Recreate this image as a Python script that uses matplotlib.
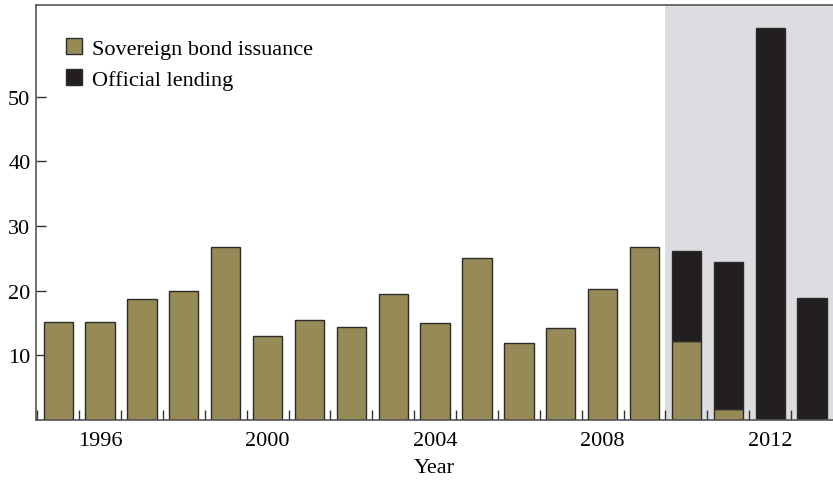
import numpy as np
import matplotlib
matplotlib.use("Agg")
import matplotlib.pyplot as plt
from matplotlib.ticker import FixedLocator

years = list(range(1995, 2014))
bond_issuance = [15.2, 15.2, 18.7, 20.0, 26.8, 13.0, 15.5, 14.4, 19.5, 15.0,
                 25.1, 11.9, 14.2, 20.3, 26.8, 12.3, 1.7, 0.0, 0.0]
official_lending = [0, 0, 0, 0, 0, 0, 0, 0, 0, 0,
                    0, 0, 0, 0, 0, 13.9, 22.8, 60.7, 18.9]
label_years = [1996, 2000, 2004, 2008, 2012]
y_ticks = [10, 20, 30, 40, 50]

olive = "#968b56"
dark = "#231f20"
shade = "#dcdde0"
edge = "#2b2b2b"

plt.rcParams["font.family"] = ["Liberation Serif", "DejaVu Serif"]
plt.rcParams["font.size"] = 16

fig = plt.figure(figsize=(8.33, 4.81), dpi=100)
ax = fig.add_axes([0.0432, 0.1247, 0.9568, 0.8628])

ax.axvspan(2009.5, 2013.6, color=shade, zorder=0, lw=0)

years_arr = np.array(years)
bond = np.array(bond_issuance)
lend = np.array(official_lending)

ax.bar(years_arr, bond, width=0.7, color=olive, edgecolor=edge, linewidth=1.0,
       zorder=2, label="Sovereign bond issuance")
mask = lend > 0
ax.bar(years_arr[mask], lend[mask], width=0.7, bottom=bond[mask], color=dark,
       edgecolor=edge, linewidth=1.0, zorder=2, label="Official lending")

ax.set_xlim(1994.47, 2013.5)
ax.set_ylim(0, 64.2)

ax.set_xticks(label_years)
ax.set_xticklabels([str(y) for y in label_years])
ax.xaxis.set_minor_locator(FixedLocator([y + 0.5 for y in range(1994, 2013)]))
ax.tick_params(axis="x", which="major", length=0, pad=8)
ax.tick_params(axis="x", which="minor", direction="in", length=7, width=1, color="#333333")
ax.set_yticks(y_ticks)
ax.tick_params(axis="y", direction="in", length=7, width=1, color="#333333", pad=4)

for side in ["left", "top", "bottom"]:
    ax.spines[side].set_color("#555555")
    ax.spines[side].set_linewidth(1.2)
    ax.spines[side].set_zorder(3)
ax.spines["right"].set_visible(False)

ax.set_xlabel("Year", labelpad=6)

leg = ax.legend(loc="upper left", bbox_to_anchor=(0.026, 0.942), frameon=False,
                handlelength=0.75, handleheight=0.75, handletextpad=0.45,
                labelspacing=0.45, borderaxespad=0)

fig.savefig("out.png", dpi=100)
